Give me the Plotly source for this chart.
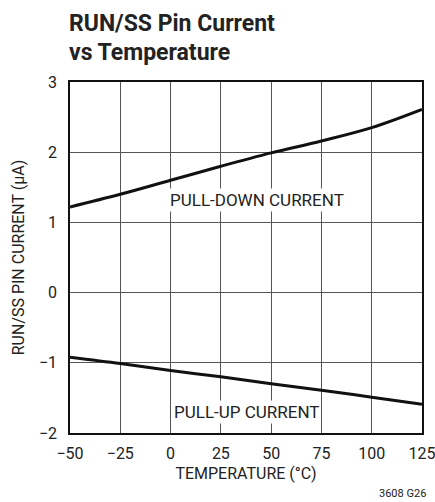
import plotly.graph_objects as go

temperature = [-50, -25, 0, 25, 50, 75, 100, 125]
pull_down = [1.22, 1.40, 1.60, 1.80, 1.99, 2.16, 2.35, 2.61]
pull_up = [-0.92, -1.01, -1.11, -1.20, -1.30, -1.39, -1.49, -1.59]
x_ticks = [-50, -25, 0, 25, 50, 75, 100, 125]
y_ticks = [-2, -1, 0, 1, 2, 3]

FONT = "Roboto, Arial, sans-serif"

fig = go.Figure()
fig.add_trace(go.Scatter(x=temperature, y=pull_down, mode="lines", line=dict(color="#111", width=3, shape="spline"), showlegend=False))
fig.add_trace(go.Scatter(x=temperature, y=pull_up, mode="lines", line=dict(color="#111", width=3, shape="spline"), showlegend=False))

fig.add_annotation(x=43, y=1.32, text="PULL-DOWN CURRENT", showarrow=False, bgcolor="white",
                   font=dict(family=FONT, size=17, color="#222"), borderpad=1)
fig.add_annotation(x=37.5, y=-1.70, text="PULL-UP CURRENT", showarrow=False, bgcolor="white",
                   font=dict(family=FONT, size=17, color="#222"), borderpad=1)

fig.add_annotation(xref="paper", yref="paper", x=0, y=1, xanchor="left", yanchor="middle", yshift=59, xshift=-3,
                   text="<b>RUN/SS Pin Current</b>", align="left", showarrow=False,
                   font=dict(family=FONT, size=23, color="#222"))
fig.add_annotation(xref="paper", yref="paper", x=0, y=1, xanchor="left", yanchor="middle", yshift=30, xshift=-3,
                   text="<b>vs Temperature</b>", align="left", showarrow=False,
                   font=dict(family=FONT, size=23, color="#222"))
fig.add_annotation(xref="paper", yref="paper", x=1, y=0, xanchor="right", yanchor="top", yshift=-52, xshift=6,
                   text="3608 G26", showarrow=False, font=dict(family=FONT, size=11, color="#222"))

fig.update_xaxes(range=[-50, 125], tickvals=x_ticks, showgrid=True, gridcolor="#555", gridwidth=1,
                 showline=True, linecolor="#111", linewidth=1.5, mirror=True, zeroline=False,
                 ticks="", ticklabelstandoff=5, ticklabeloverflow="allow", automargin=False,
                 tickfont=dict(family=FONT, size=16, color="#222"),
                 title=dict(text="TEMPERATURE (°C)", font=dict(family=FONT, size=16, color="#222"), standoff=6))
fig.update_yaxes(range=[-2, 3], tickvals=y_ticks, showgrid=True, gridcolor="#555", gridwidth=1,
                 showline=True, linecolor="#111", linewidth=1.5, mirror=True, zeroline=False,
                 ticks="", ticklabelstandoff=8, ticklabeloverflow="allow", automargin=False,
                 tickfont=dict(family=FONT, size=16, color="#222"),
                 title=dict(text="RUN/SS PIN CURRENT (µA)", font=dict(family=FONT, size=16, color="#222"), standoff=10))

fig.update_layout(width=435, height=502, margin=dict(l=70, r=13, t=82, b=69),
                  plot_bgcolor="white", paper_bgcolor="white")
fig.write_html("out.html", config={"displayModeBar": False},
               post_script="document.body.style.margin='0';document.body.style.overflow='hidden';")
